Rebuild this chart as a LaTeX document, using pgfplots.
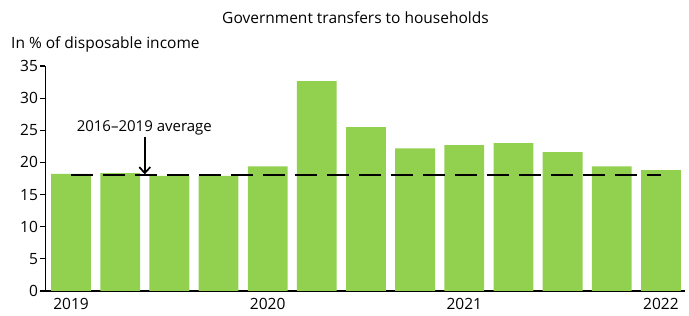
\documentclass[border=0pt]{standalone}
\usepackage{pgfplots}
\pgfplotsset{compat=1.18}
\usepackage{fontspec}
\setmainfont{Open Sans}
\usetikzlibrary{arrows.meta}
\definecolor{bargreen}{RGB}{146,208,80}
\begin{document}
\begin{tikzpicture}[font=\fontsize{15.5}{18}\selectfont]
\path[use as bounding box] (-45.5pt,-25pt) rectangle (643.5pt,291pt);
\begin{axis}[
 at={(0,0)}, anchor=south west,
 scale only axis, width=639.5pt, height=225pt,
 xmin=-0.52, xmax=12.49, ymin=0, ymax=35,
 axis x line*=bottom, axis y line*=left,
 axis line style={line width=1.1pt},
 ytick={0,5,...,35},
 xtick={0,4,8,12}, xticklabels={2019,2020,2021,2022},
 xtick style={draw=none},
 ytick style={line width=1.1pt, black},
 tick align=outside, major tick length=5pt,
 /pgf/number format/assume math mode=true,
 tick label style={font=\fontsize{15.5}{18}\selectfont},
 yticklabel style={xshift=1pt},
 xticklabel style={yshift=1pt},
 clip=false,
]
\addplot[ybar, bar width=0.81, fill=bargreen, draw=none] coordinates {
(0,18.2) (1,18.35) (2,17.9) (3,17.9) (4,19.4) (5,32.65) (6,25.5) (7,22.2) (8,22.7) (9,23.0) (10,21.6) (11,19.4) (12,18.8)};
\addplot[black, line width=2.4pt, dash pattern=on 22pt off 10pt] coordinates {(0,18) (12,18)};
\draw[line width=1.7pt, -{Straight Barb[length=6pt,width=11pt]}] (axis cs:1.5,24) -- (axis cs:1.5,18.15);
\node[font=\fontsize{15}{18}\selectfont] at (axis cs:1.49,25.35) {2016–2019 average};
\end{axis}
\node at (310pt,273pt) {Government transfers to households};
\node[anchor=west,inner sep=0pt] at (-34.5pt,247pt) {In \% of disposable income};
\end{tikzpicture}
\end{document}
